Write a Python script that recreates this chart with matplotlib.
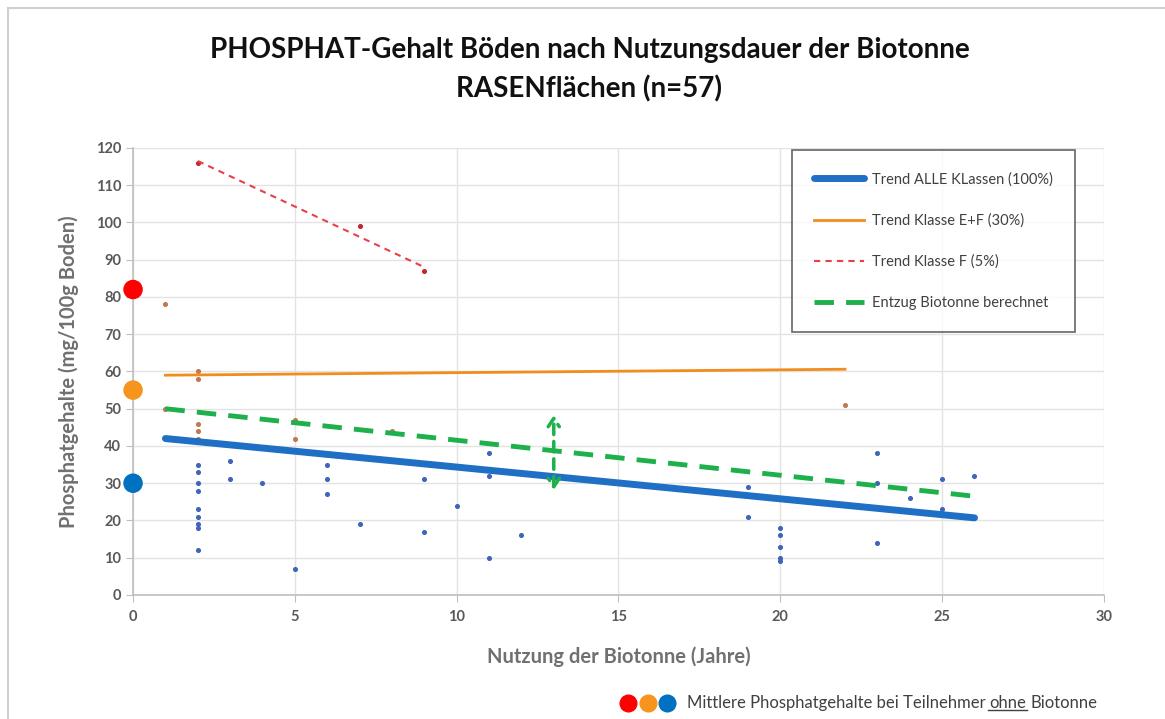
import matplotlib.pyplot as plt
from matplotlib.patches import FancyArrowPatch, Rectangle
from matplotlib.lines import Line2D

plt.rcParams['font.family'] = ['Lato', 'DejaVu Sans']

# measured points (years of use, phosphate mg/100g)
x_blue = [2, 2, 2, 2, 2, 2, 2, 2, 2, 3, 3, 4, 5, 6, 6, 6, 7, 9, 9, 10, 11, 11, 11, 12,
          19, 19, 20, 20, 20, 20, 20, 23, 23, 23, 24, 25, 25, 26]
y_blue = [35, 33, 30, 28, 23, 21, 19, 18, 12, 36, 31, 30, 7, 35, 31, 27, 19, 31, 17, 24, 38, 32, 10, 16,
          29, 21, 18, 16, 13, 10, 9, 38, 30, 14, 26, 31, 23, 32]
x_orange = [1, 1, 2, 2, 2, 2, 2, 5, 5, 8, 22]
y_orange = [78, 50, 60, 58, 46, 44, 42, 47, 42, 44, 51]
x_red = [2, 7, 9]
y_red = [116, 99, 87]

# mean values of participants without bin (plotted at 0 years)
mean_none = [82, 55, 30]
mean_colors = ['#FF0000', '#F7941D', '#0070C0']

# trend lines (start, end)
trend_all_x = [1, 26]
trend_all_y = [42, 20.7]
trend_ef_x = [1, 22]
trend_ef_y = [59, 60.6]
trend_f_x = [2, 9]
trend_f_y = [116.5, 88]
entzug_x = [1, 26]
entzug_y = [50, 26.5]
arrow_x = 13
arrow_y = [27.5, 49]

fig = plt.figure(figsize=(11.65, 7.19), dpi=100)
ax = fig.add_axes([0.1142, 0.1725, 0.8334, 0.6217])

fig.patches.append(Rectangle((8 / 1165, -0.1), 1.2, 1 - 8 / 719 + 0.1, transform=fig.transFigure,
                             fill=False, edgecolor='#D0D0D0', linewidth=1.5))

ax.scatter(x_blue, y_blue, s=7, color='#4065B8', zorder=3)
ax.scatter(x_orange, y_orange, s=7, color='#C07850', zorder=3)
ax.scatter(x_red, y_red, s=7, color='#C0282D', zorder=3)

ax.plot(trend_all_x, trend_all_y, color='#1F6FC5', lw=5, solid_capstyle='round', zorder=4,
        label='Trend ALLE KLassen (100%)')
ax.plot(trend_ef_x, trend_ef_y, color='#F28C1A', lw=2, zorder=4, label='Trend Klasse E+F (30%)')
ax.plot(trend_f_x, trend_f_y, color='#E8404A', lw=1.5, ls=(0, (3, 2.5)), zorder=4,
        label='Trend Klasse F (5%)')
ax.plot(entzug_x, entzug_y, color='#1DB04B', lw=3.5, ls=(0, (4, 2.5)), zorder=4,
        label='Entzug Biotonne berechnet')

arr = FancyArrowPatch((arrow_x, arrow_y[0]), (arrow_x, arrow_y[1]), arrowstyle='<->,head_length=6,head_width=4',
                      color='#1DB04B', lw=2.5, linestyle=(0, (3, 2)), zorder=5)
ax.add_patch(arr)

ax.scatter([0, 0, 0], mean_none, s=170, color=mean_colors, zorder=6, clip_on=False)

ax.set_xlim(0, 30)
ax.set_ylim(0, 120)
ax.set_xticks(range(0, 31, 5))
ax.set_yticks(range(0, 121, 10))
ax.grid(True, color='#E3E3E3', lw=1)
ax.set_axisbelow(True)
for s in ['top', 'right']:
    ax.spines[s].set_visible(False)
for s in ['left', 'bottom']:
    ax.spines[s].set_color('#BFBFBF')
    ax.spines[s].set_linewidth(1.2)
ax.tick_params(axis='both', colors='#BFBFBF', length=5, labelcolor='#595959', labelsize=10.5)
ax.tick_params(axis='x', pad=6)
for lab in ax.get_xticklabels() + ax.get_yticklabels():
    lab.set_fontweight('bold')

ax.set_xlabel('Nutzung der Biotonne (Jahre)', fontsize=14.5, fontweight='bold', color='#707070', labelpad=16)
ax.set_ylabel('Phosphatgehalte (mg/100g Boden)', fontsize=14.5, fontweight='bold', color='#707070', labelpad=12)

fig.text(0.506, 0.903, 'PHOSPHAT-Gehalt Böden nach Nutzungsdauer der Biotonne\nRASENflächen (n=57)',
         ha='center', va='center', fontsize=20, fontweight='bold', color='#111111', linespacing=1.55)

leg = ax.legend(loc='upper left', bbox_to_anchor=(0.679, 0.995), fontsize=10.5, frameon=True,
                fancybox=False, edgecolor='#404040', labelspacing=1.85, handlelength=3.4,
                borderpad=1.5, handletextpad=0.6, borderaxespad=0)
leg.get_frame().set_linewidth(1.2)
for t in leg.get_texts():
    t.set_color('#404040')

# bottom note with coloured dots and underlined word
for i, c in enumerate(mean_colors):
    fig.lines.append(Line2D([(628 + 19.5 * i) / 1165], [1 - 703 / 719], marker='o', markersize=12,
                            color=c, transform=fig.transFigure))

fig.canvas.draw()
r = fig.canvas.get_renderer()
xpos = 687 / 1165
ypos = 1 - 703 / 719
parts = ['Mittlere Phosphatgehalte bei Teilnehmer', 'ohne', 'Biotonne']
for i, p in enumerate(parts):
    t = fig.text(xpos, ypos, p, fontsize=12, color='#404040', va='center', ha='left')
    bb = t.get_window_extent(r)
    if i == 1:
        fig.lines.append(Line2D([(bb.x0 - 2) / 1165, bb.x1 / 1165], [(bb.y0 + 1) / 719] * 2,
                                color='#404040', lw=1, transform=fig.transFigure))
    xpos = (bb.x1 + 4) / 1165

fig.savefig('out.png', dpi=100)
